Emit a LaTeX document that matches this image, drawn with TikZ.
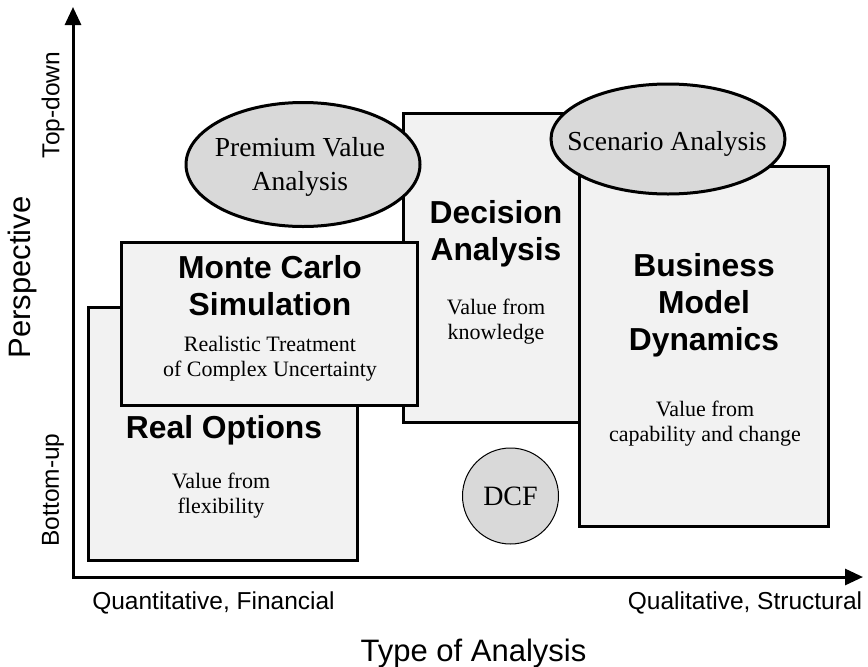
\documentclass[tikz,border=0pt]{standalone}
\usepackage{fontspec}
\setmainfont{Liberation Serif}
\setsansfont{Liberation Sans}
\usetikzlibrary{arrows.meta,shapes.geometric}

\definecolor{boxfill}{gray}{0.95}
\definecolor{bubblefill}{gray}{0.85}

\begin{document}
\begin{tikzpicture}[x=1pt,y=-1pt]
		% Define node styles
		\tikzstyle{panel} = [rectangle, draw, line width=3pt, fill=boxfill, inner sep=0pt];
		\tikzstyle{bubble} = [ellipse, draw, line width=3pt, fill=bubblefill, inner sep=0pt];
		\tikzstyle{bubbletext} = [align=center, font=\fontsize{27.5}{34}\selectfont];
		\tikzstyle{title} = [align=center, font=\sffamily\bfseries\fontsize{31.8}{37}\selectfont];
		\tikzstyle{note} = [align=center, font=\fontsize{22}{25}\selectfont];
		\tikzstyle{endlabel} = [font=\sffamily\fontsize{24.5}{29}\selectfont];
		\tikzstyle{axistitle} = [font=\sffamily\fontsize{31}{37}\selectfont];
		\tikzstyle{axis} = [line width=3pt, {Triangle[length=18pt,width=16pt]}-{Triangle[length=18pt,width=16pt]}];
		
		\useasboundingbox (0,0) rectangle (868,667);
		
		% Axes
		\coordinate (origin) at (73,577);
		\coordinate (ytip) at (73,7);
		\coordinate (xtip) at (863,577);
		\draw[axis] (ytip) -- (origin) -- (xtip);
		
		% Method boxes (back to front)
		\node[panel, minimum width=269pt, minimum height=253pt] (realopt) at (222.5,433.5) {};
		\node[panel, minimum width=187pt, minimum height=309pt] (decision) at (496.5,267.5) {};
		\node[panel, minimum width=296pt, minimum height=163pt] (montecarlo) at (269,323.5) {};
		\node[panel, minimum width=249pt, minimum height=360pt] (business) at (703.5,346) {};
		
		% Ellipses and circle
		\node[bubble, minimum width=234pt, minimum height=124pt] (premium) at (303,164.5) {};
		\node[bubble, minimum width=234pt, minimum height=110pt] (scenario) at (668,139) {};
		\node[circle, draw, line width=1pt, fill=bubblefill, minimum size=96pt, inner sep=0pt,
			font=\fontsize{28}{34}\selectfont] (dcf) at (510.5,496) {DCF};
		
		% Texts
		\node[bubbletext] (premiumtext) at (300,166.5) {Premium Value\\Analysis};
		\node[bubbletext] (scenariotext) at (667,143.5) {Scenario Analysis};
		\node[title] (mctitle) at (270,286) {Monte Carlo\\Simulation};
		\node[note] (mcnote) at (270,359) {Realistic Treatment\\of Complex Uncertainty};
		\node[title] (rotitle) at (224,430) {Real Options};
		\node[note] (ronote) at (221,495.5) {Value from\\flexibility};
		\node[title] (datitle) at (496,234) {Decision\\Analysis};
		\node[note] (danote) at (496,322) {Value from\\knowledge};
		\node[title] (bmtitle) at (704,305) {Business\\Model\\Dynamics};
		\node[note] (bmnote) at (705,424) {Value from\\capability and change};
		
		% Axis labels
		\node[endlabel, rotate=90] (topdown) at (53,105) {Top-down};
		\node[endlabel, rotate=90] (bottomup) at (53,490) {Bottom-up};
		\node[axistitle, rotate=90] (perspective) at (22,277.5) {Perspective};
		\node[endlabel] (quantitative) at (213.5,603) {Quantitative, Financial};
		\node[endlabel] (qualitative) at (745,603) {Qualitative, Structural};
		\node[axistitle] (analysistype) at (473.5,653) {Type of Analysis};
	\end{tikzpicture}
\end{document}
